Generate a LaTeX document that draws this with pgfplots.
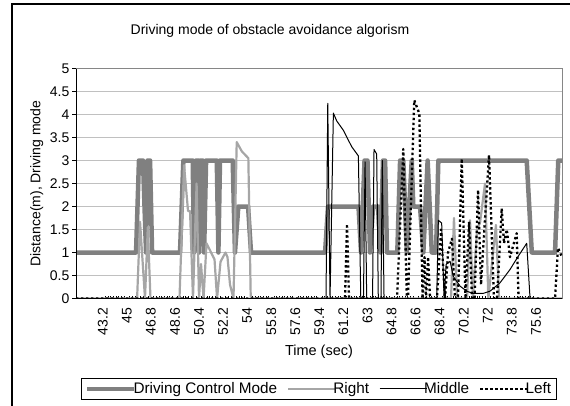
\documentclass[border=0pt]{standalone}
\usepackage{fontspec}
\setmainfont{Liberation Sans}
\usepackage{pgfplots}
\pgfplotsset{compat=1.18}

\definecolor{modegray}{RGB}{128,128,128}
\definecolor{rightgray}{RGB}{166,166,166}
\definecolor{gridgray}{RGB}{192,192,192}

\begin{document}
\begin{tikzpicture}
\useasboundingbox (0pt,0pt) rectangle (570pt,405pt);
% chart frame (right and bottom edges fall outside the picture)
\draw[line width=1.2pt] (12pt,-10pt) -- (12pt,401pt) -- (600pt,401pt);
\node[font=\fontsize{14}{16}\selectfont] at (270pt,374pt) {Driving mode of obstacle avoidance algorism};
\begin{axis}[
    at={(76pt,106.5pt)}, anchor=south west,
    scale only axis, width=486pt, height=230pt,
    xmin=41.2, xmax=77.55, ymin=0, ymax=5,
    ytick={0,0.5,1,1.5,2,2.5,3,3.5,4,4.5,5},
    xtick={43.2,45,46.8,48.6,50.4,52.2,54,55.8,57.6,59.4,61.2,63,64.8,66.6,68.4,70.2,72,73.8,75.6},
    minor x tick num=8,
    ytick pos=left, xtick pos=bottom,
    ymajorgrids, grid style={gridgray, line width=0.8pt},
    axis line style={draw=gridgray!70!black, line width=0.8pt},
    tick align=outside, major tick length=4pt, minor tick length=-2.5pt,
    ytick style={black, line width=0.8pt},
    major x tick style={draw=none},
    minor x tick style={black, line width=0.6pt},
    tick label style={font=\fontsize{14}{16}\selectfont},
    /pgf/number format/assume math mode=true,
    yticklabel style={inner sep=0pt, xshift=-2.5pt},
    xticklabel style={yshift=-5.5pt, rotate=90, anchor=east, inner sep=0pt},
    xlabel={Time (sec)},
    xlabel style={at={(axis description cs:0.5,-0.2326)}, anchor=center, font=\fontsize{14.5}{16}\selectfont},
    ylabel={Distance(m), Driving mode},
    ylabel style={at={(axis description cs:-0.0809,0.5)}, anchor=center, font=\fontsize{14}{16}\selectfont},
    legend columns=4,
    legend cell align=left,
    legend style={at={(0.499,-0.393)}, anchor=center, draw=black, line width=0.8pt,
      font=\fontsize{15.3}{17}\selectfont, inner xsep=4pt, inner ysep=2.5pt,
      nodes={inner xsep=1pt, inner ysep=1.5pt},
      /tikz/every odd column/.append style={column sep=-4pt},
      /tikz/every even column/.append style={column sep=9pt}},
    legend image code/.code={\draw[#1] (0pt,0pt) -- (47pt,0pt);},
    every axis plot/.append style={line join=round},
    after end axis/.code={
      \draw[black, line width=0.9pt] (rel axis cs:0,1) -- (rel axis cs:0,0) -- (rel axis cs:1,0);
    },
  ]
  % Driving Control Mode
  \addplot[modegray, line width=4.5pt] coordinates {
    (41.20,1) (45.69,1) (45.91,3) (46.21,3) (46.44,1) (46.55,3) (46.74,3) (46.89,1)
    (48.98,1) (49.23,3) (49.93,3) (50.03,1) (50.18,3) (50.35,3) (50.40,1) (50.48,3)
    (50.68,3) (50.78,1) (50.93,3) (51.73,3) (51.85,1) (51.97,3) (52.92,3) (53.09,1)
    (53.34,2) (54.07,2) (54.29,1) (59.83,1) (60.05,2) (62.33,2) (62.52,1) (62.78,3)
    (63.00,3) (63.19,1) (63.42,2) (63.79,2) (63.98,1) (64.16,3) (64.32,3) (64.46,1)
    (65.23,1) (65.44,3) (65.68,3) (65.94,1) (66.31,3) (66.43,2) (66.93,2) (67.18,1)
    (67.50,3) (67.81,1) (68.13,1) (68.30,3) (74.91,3) (75.29,1) (77.03,1) (77.27,3)
    (77.55,3)
  };
  % Right
  \addplot[rightgray, line width=2.2pt] coordinates {
    (41.20,0) (45.77,0) (45.99,1.67) (46.36,0) (46.57,1.55) (46.77,0) (48.94,0)
    (49.28,2.9) (49.58,1.9) (49.73,1.9) (49.95,0) (50.22,2.5) (50.40,0) (50.55,0.75)
    (50.74,0) (50.96,1.2) (51.22,1.05) (51.56,0.85) (51.75,0) (52.01,0.8) (52.38,1.0)
    (52.53,0.9) (52.72,0.3) (52.98,0) (53.22,3.4) (53.60,3.2) (54.09,3.05) (54.27,0)
    (69.25,0) (69.47,1.75) (69.70,0) (70.45,0) (70.67,1.7) (70.89,0) (71.19,1.5)
    (71.42,1.65) (71.79,2.5) (72.04,0) (72.61,1.6) (72.84,0) (77.55,0)
  };
  % Middle
  \addplot[black, line width=1pt] coordinates {
    (41.20,0) (59.90,0) (60.03,4.24) (60.20,0) (60.45,4.03) (60.70,3.86) (61.19,3.66)
    (61.82,3.3) (62.32,3.1) (62.50,0) (62.70,0) (62.82,2.97) (62.94,0) (63.38,0)
    (63.49,3.24) (63.69,3.14) (63.81,0) (64.01,0) (64.11,3.0) (64.24,0) (68.18,0)
    (68.30,1.7) (68.55,1.64) (68.73,0) (68.88,0.74) (69.18,0.81) (69.42,0.48)
    (69.92,0.27) (70.42,0.16) (70.89,0.11) (71.64,0.11) (72.17,0.16) (72.91,0.34)
    (73.66,0.63) (74.28,0.92) (74.91,1.2) (75.16,0) (77.55,0)
  };
  % Left
  \addplot[black, line width=2.3pt, dash pattern=on 2.3pt off 2.7pt] coordinates {
    (41.20,0) (61.32,0) (61.47,1.62) (61.62,0) (65.21,0) (65.68,3.25) (65.94,0)
    (66.03,0) (66.50,4.31) (66.88,4.02) (67.12,0) (67.27,0.9) (67.38,0) (67.53,0.9)
    (67.68,0) (68.20,0) (68.50,1.5) (68.80,0) (69.03,1.0) (69.32,1.3) (69.55,0)
    (69.77,0) (70.05,3.04) (70.33,0) (70.60,1.67) (70.82,0) (71.01,0) (71.27,2.36)
    (71.49,0.3) (71.68,1.2) (72.09,3.12) (72.46,0) (72.69,0) (73.04,1.96) (73.21,1.2)
    (73.42,1.5) (73.66,0.9) (74.16,1.42) (74.30,0) (77.03,0) (77.25,1.1) (77.55,0.9)
  };
  \legend{Driving Control Mode, Right, Middle, Left}
\end{axis}
\end{tikzpicture}
\end{document}
